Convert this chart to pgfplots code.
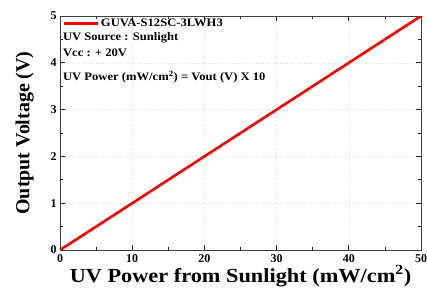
\documentclass[border=0pt]{standalone}
\usepackage{graphicx}
\usepackage{pgfplots}
\pgfplotsset{compat=1.18}
\usepackage{fontspec}
\setmainfont{Liberation Serif}
\newcommand{\wide}[2][1.1]{\scalebox{#1}[1]{#2}}
\begin{document}
\begin{tikzpicture}
\begin{axis}[
  scale only axis, width=361bp, height=234bp,
  at={(0,0)}, anchor=south west,
  xmin=0, xmax=50, ymin=0, ymax=5,
  xtick={0,10,...,50}, ytick={0,1,...,5},
  minor x tick num=1, minor y tick num=1,
  tick align=inside, tick pos=both,
  major tick length=5bp, minor tick length=3bp,
  every tick/.style={black!85, line width=0.7pt},
  axis line style={line width=0.9pt, black!75},
  grid=major, grid style={dotted, black!12, line width=0.4pt},
  /pgf/number format/assume math mode=true,
  ticklabel style={font=\fontsize{12}{13}\selectfont\bfseries},
  xticklabel style={yshift=-1bp},
  xlabel={\wide[1.12]{\textbf{UV Power from Sunlight (mW/cm\textsuperscript{2})}}},
  ylabel={\textbf{Output Voltage (V)}},
  label style={font=\fontsize{20}{22}\selectfont},
  xlabel style={yshift=4bp},
  ylabel style={yshift=10bp},
  legend style={draw=none, fill=none, at={(rel axis cs:0,1)}, anchor=north west, font=\fontsize{11.5}{12}\selectfont\bfseries, inner sep=1bp, row sep=0pt, xshift=1bp},
  legend cell align=left,
  legend image code/.code={\draw[#1, line width=2.8pt] (0bp,0bp) -- (34bp,0bp);},
]
\addplot[red, line width=2.6pt] coordinates {(0,0) (50,5)};
\addlegendentry{\wide{GUVA-S12SC-3LWH3}}
\node[anchor=west, font=\fontsize{11.5}{12}\selectfont\bfseries, inner sep=0pt] at (axis cs:0.4,4.53) {\wide{UV Source : Sunlight}};
\node[anchor=west, font=\fontsize{11.5}{12}\selectfont\bfseries, inner sep=0pt] at (axis cs:0.4,4.22) {\wide{Vcc : + 20V}};
\node[anchor=west, font=\fontsize{11.5}{12}\selectfont\bfseries, inner sep=0pt] at (axis cs:0.4,3.70) {\wide{UV Power (mW/cm\textsuperscript{2}) = Vout (V) X 10}};
\end{axis}
\pgfresetboundingbox
\path (-60bp,-46bp) rectangle (367bp,250bp);
\end{tikzpicture}
\end{document}
